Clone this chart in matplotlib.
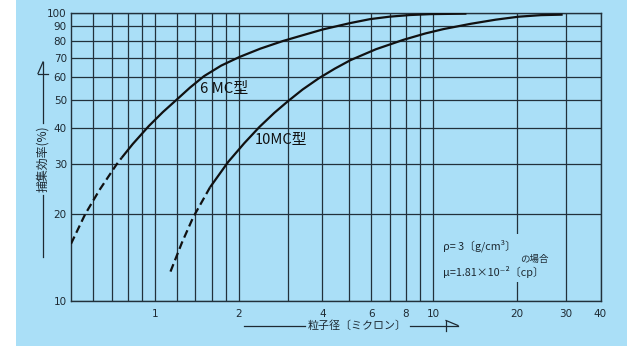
import matplotlib
matplotlib.use("Agg")
import matplotlib.pyplot as plt
from matplotlib.lines import Line2D
from matplotlib.patches import Rectangle

# ---- data ----
mc6_dash_x = [0.50, 0.562, 0.633, 0.729, 0.760]
mc6_dash_y = [15.8, 20.0, 24.3, 29.8, 31.4]
mc6_x = [0.760, 0.833, 0.951, 1.069, 1.204, 1.338, 1.503, 1.732, 2.012, 2.396,
         2.884, 3.315, 4.004, 5.024, 5.934, 6.981, 8.28, 9.78, 13.19]
mc6_y = [31.4, 35.06, 40.46, 45.27, 50.2, 55.06, 60.35, 65.65, 70.3, 75.2,
         79.9, 83.1, 87.6, 92.2, 95.2, 97.1, 98.4, 99.1, 99.5]

mc10_dash_x = [1.139, 1.252, 1.375, 1.580]
mc10_dash_y = [12.65, 15.94, 19.55, 24.82]
mc10_x = [1.580, 1.836, 2.097, 2.376, 2.692, 3.007, 3.399, 3.893, 4.436, 5.052,
          6.239, 7.83, 9.38, 10.89, 13.64, 16.80, 20.33, 24.42, 29.25]
mc10_y = [24.82, 30.4, 35.3, 40.18, 45.05, 49.35, 54.24, 59.4, 64.08, 68.6,
          74.86, 80.7, 84.9, 87.9, 91.7, 94.8, 97.1, 98.3, 98.7]

x_grid = [0.6, 0.7, 0.8, 0.9, 1, 1.2, 1.4, 1.6, 1.8, 2, 3, 4, 5, 6, 7, 8, 9, 10, 20, 30, 40]
x_labeled = {1: "1", 2: "2", 4: "4", 6: "6", 8: "8", 10: "10", 20: "20", 30: "30", 40: "40"}
y_ticks = [10, 20, 30, 40, 50, 60, 70, 80, 90, 100]

BG = "#AADFF7"
GRID = "#22313b"
INK = "#1e2a33"
W, H = 627, 346

plt.rcParams['font.family'] = ['Noto Sans CJK JP', 'DejaVu Sans']

fig = plt.figure(figsize=(W / 100, H / 100), dpi=100, facecolor=BG)
# white strip at the left edge
fig.add_artist(Rectangle((0, 0), 16 / W, 1, transform=fig.transFigure,
                         facecolor="white", edgecolor="none", zorder=-10))

ax = fig.add_axes([71 / W, 1 - 301 / H, (600.5 - 71) / W, (301 - 13) / H])
ax.set_facecolor(BG)
ax.set_xscale("log")
ax.set_yscale("log")
ax.set_xlim(0.5, 40)
ax.set_ylim(10, 100)

ax.set_xticks(x_grid)
ax.set_xticklabels([x_labeled.get(v, "") for v in x_grid])
ax.xaxis.set_minor_locator(matplotlib.ticker.NullLocator())
ax.set_yticks(y_ticks)
ax.set_yticklabels([str(v) for v in y_ticks])
ax.yaxis.set_minor_locator(matplotlib.ticker.NullLocator())

tick_font = ['Liberation Sans Narrow', 'DejaVu Sans']
for lab in ax.get_xticklabels() + ax.get_yticklabels():
    lab.set_family(tick_font)
    lab.set_fontsize(7.5)
    lab.set_color(INK)
ax.tick_params(axis="both", length=0)
ax.tick_params(axis="x", pad=6)
ax.tick_params(axis="y", pad=3)

ax.grid(True, which="major", color=GRID, linewidth=0.9)
ax.set_axisbelow(True)
for s in ax.spines.values():
    s.set_color(GRID)
    s.set_linewidth(1.0)

# curves
kw = dict(color="#111111", linewidth=1.6, solid_capstyle="butt",
          solid_joinstyle="round", zorder=3)
ax.plot(mc6_dash_x, mc6_dash_y, linestyle=(0, (3.6, 1.9)), **kw)
ax.plot(mc6_x, mc6_y, linestyle="-", **kw)
ax.plot(mc10_dash_x, mc10_dash_y, linestyle=(0, (3.6, 1.9)), **kw)
ax.plot(mc10_x, mc10_y, linestyle="-", **kw)

# curve labels
ax.text(1.454, 54.5, "6 MC型", fontsize=10.8, va="center", ha="left", color="#111111")
ax.text(2.293, 36.1, "10MC型", fontsize=10.6, va="center", ha="left", color="#111111")

# note with background covering grid
ax.add_patch(Rectangle((10.7, 11.6), 26 - 10.7, 17.1 - 11.6, facecolor=BG,
                       edgecolor="none", zorder=1.5))
note_kw = dict(va="center", ha="left", color=INK, zorder=4)
ax.text(10.9, 15.5, "ρ= 3〔g/cm³〕", fontsize=7.8, **note_kw)
ax.text(20.5, 13.9, "の場合", fontsize=6.8, **note_kw)
ax.text(10.9, 12.6, "μ=1.81×10⁻²〔cp〕", fontsize=7.8, **note_kw)


def P(x, y):
    return (x / W, 1 - y / H)


def fline(x0, y0, x1, y1, lw=0.9):
    (a, b), (c, d) = P(x0, y0), P(x1, y1)
    fig.add_artist(Line2D([a, c], [b, d], transform=fig.transFigure,
                          color=INK, linewidth=lw))


# x axis label with arrow lines
fig.text(*P(357.5, 325.5), "粒子径〔ミクロン〕", fontsize=7.9, ha="center", va="center",
         color=INK)
fline(244, 325.5, 305, 325.5)
fline(410, 325.5, 458, 325.5)
fline(446, 320.5, 446, 330.5)
fline(446, 320.5, 458, 325.5)

# y axis label with arrow lines
fig.text(*P(43, 159), "捕集効率(%)", fontsize=8.6, ha="center", va="center",
         rotation=90, color=INK)
fline(43, 62, 43, 123)
fline(43, 195, 43, 257)
fline(38, 73.5, 48, 73.5)
fline(38, 73.5, 43, 62)

fig.savefig("out.png", dpi=100, facecolor=BG)
